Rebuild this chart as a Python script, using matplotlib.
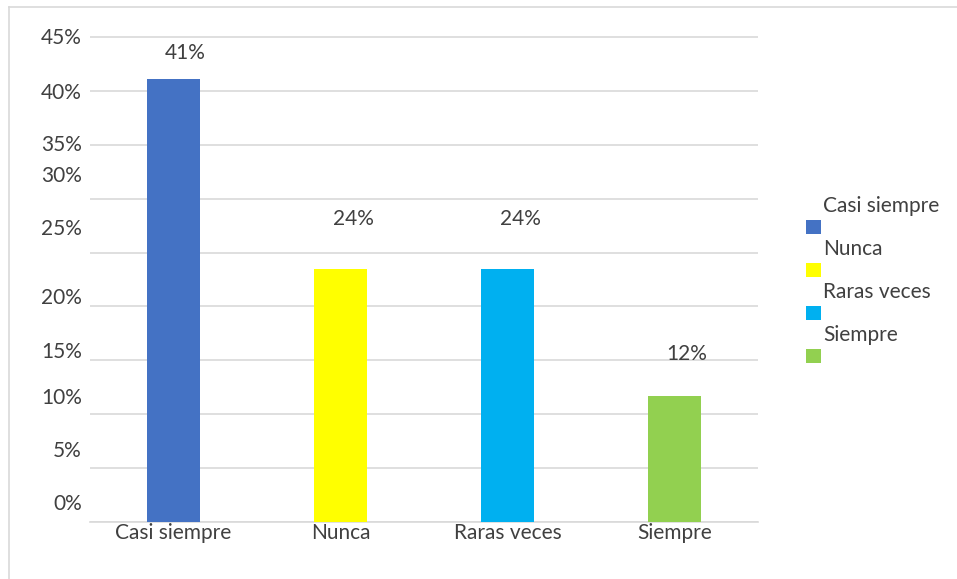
import matplotlib
matplotlib.use("Agg")
import matplotlib.pyplot as plt
from matplotlib.lines import Line2D
from matplotlib.patches import Patch

categories = ["Casi siempre", "Nunca", "Raras veces", "Siempre"]
values = [41.1, 23.5, 23.5, 11.7]
value_labels = ["41%", "24%", "24%", "12%"]
colors = ["#4472C4", "#FFFF00", "#00B0F0", "#92D050"]
grid_values = [0, 5, 10, 15, 20, 25, 30, 35, 40, 45]
tick_label_texts = ["0%", "5%", "10%", "15%", "20%", "25%", "30%", "35%", "40%", "45%"]

# positions where the (misaligned) tick labels sit in the original
tick_label_pos = [1.85, 6.8, 11.7, 16.0, 21.0, 27.4, 32.3, 35.2, 40.0, 45.1]
label_offsets_px = [26, 50, 50, 42]
label_dx_px = [12, 13, 13, 12]

plt.rcParams['font.family'] = ['Lato', 'DejaVu Sans']
txt = "#404040"
fs = 15

W, H = 957, 579
fig = plt.figure(figsize=(W / 100, H / 100), dpi=100)
ax = fig.add_axes([90 / W, 1 - 522 / H, (758 - 90) / W, (522 - 36) / H])
ax.yaxis.remove_overlapping_locs = False

x = list(range(len(categories)))
ax.bar(x, values, width=0.32, color=colors, zorder=3)
ax.set_xlim(-0.5, 3.5)
ax.set_ylim(0, 45)

ax.set_yticks(grid_values)
ax.set_yticklabels([])
ax.tick_params(axis='y', which='major', length=0)
ax.set_yticks(tick_label_pos, minor=True)
ax.set_yticklabels(tick_label_texts, minor=True)
ax.tick_params(axis='y', which='minor', length=0, pad=6, labelsize=fs, labelcolor=txt)
ax.yaxis.grid(True, which='major', color="#D9D9D9", linewidth=1.2, zorder=0)

ax.set_xticks(x)
ax.set_xticklabels(categories)
ax.tick_params(axis='x', length=0, pad=1, labelsize=fs, labelcolor=txt)

for s in ["top", "right", "left"]:
    ax.spines[s].set_visible(False)
ax.spines["bottom"].set_color("#D9D9D9")
ax.spines["bottom"].set_linewidth(1.2)

for i, (v, lab) in enumerate(zip(values, value_labels)):
    ax.annotate(lab, (i, v), xytext=(label_dx_px[i] * 0.72, label_offsets_px[i] * 0.72),
                textcoords="offset points", ha="center", va="center",
                fontsize=fs, color=txt)

handles = [Patch(facecolor=c, edgecolor='none') for c in colors]
leg = fig.legend(handles, categories, loc="upper left",
                 bbox_to_anchor=(798 / W, 1 - 210 / H), frameon=False,
                 fontsize=fs, labelcolor=txt, handlelength=0.7, handleheight=0.7,
                 handletextpad=0.1, labelspacing=1.1, borderaxespad=0)
for t in leg.get_texts():
    t.set_position((0, 22))

# outer border
fig.add_artist(Line2D([9 / W, 1], [1 - 7 / H, 1 - 7 / H], color="#D9D9D9", linewidth=1.2))
fig.add_artist(Line2D([9 / W, 9 / W], [0, 1 - 7 / H], color="#D9D9D9", linewidth=1.2))

fig.savefig("out.png", dpi=100)
